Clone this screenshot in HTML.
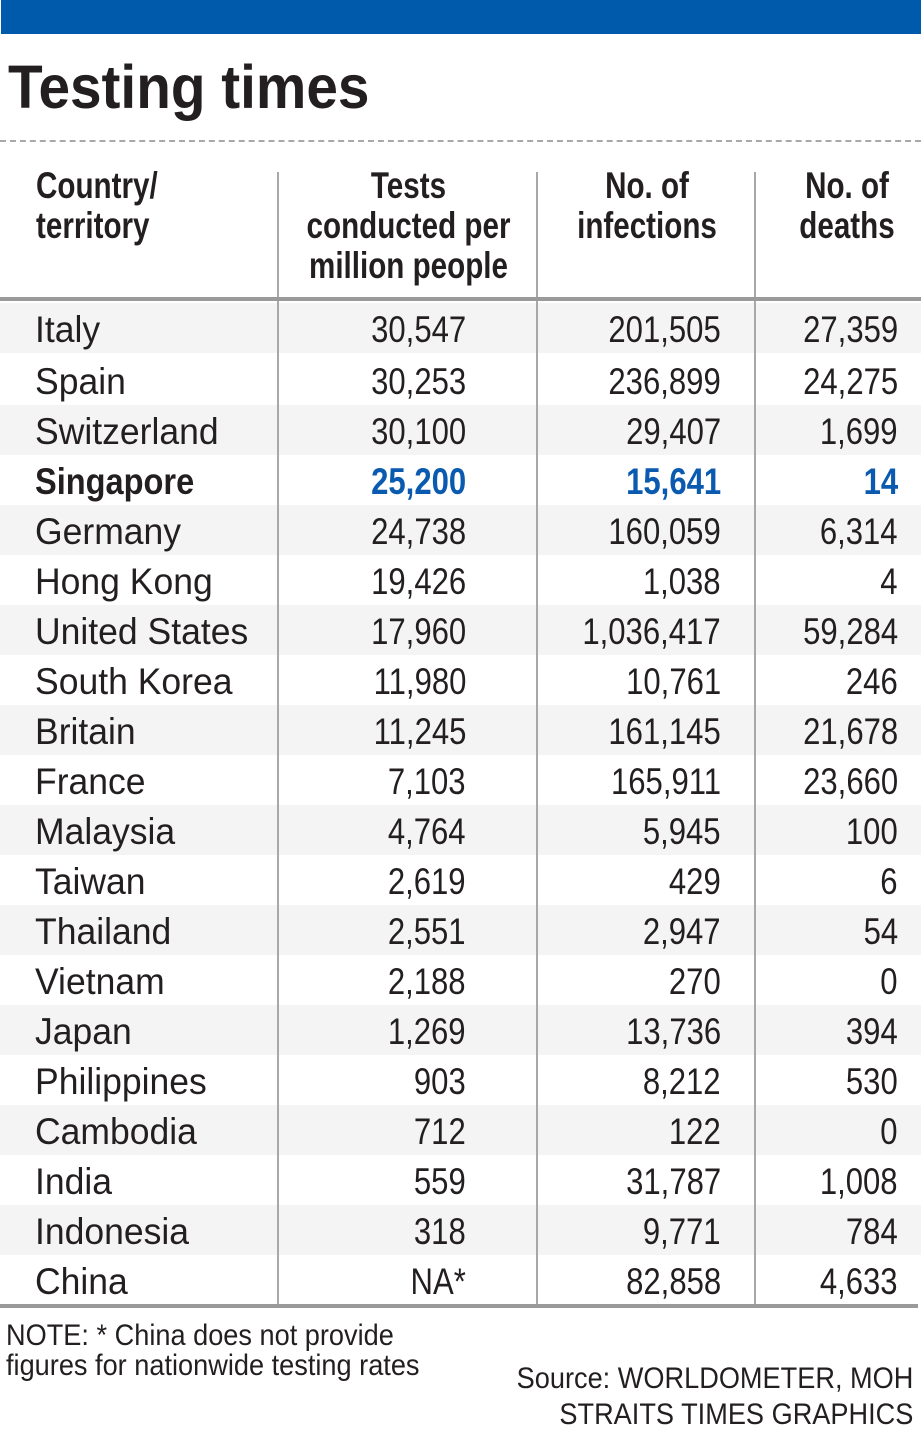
<!DOCTYPE html>
<html><head><meta charset="utf-8"><style>
*{margin:0;padding:0;box-sizing:border-box}
body{width:921px;height:1438px;background:#fff;position:relative;overflow:hidden;font-family:"Liberation Sans",sans-serif;color:#231f20}
.a{position:absolute;white-space:nowrap}
.row{position:absolute;left:0;width:921px;height:50px}
.g{background:#f3f4f3}
.t{position:absolute;font-size:37px;line-height:50px;top:2px}
.L{left:35px;transform:scaleX(0.96);transform-origin:left center}
.R{transform:scaleX(0.84);transform-origin:right center;text-align:right}
.c1{right:455px}.c2{right:200px}.c3{right:23px}
.b{font-weight:bold}
.bl{color:#0a5bb0;font-weight:bold}
.h{position:absolute;font-weight:bold;font-size:37px;line-height:40px;top:166px;transform:scaleX(0.80)}
.v{position:absolute;top:172px;width:2px;height:1133px;background:#a8a8a8}
</style></head><body>
<div class="a" style="left:1px;top:0;width:920px;height:34px;background:#005aab"></div>
<div class="a b" style="left:8px;top:51px;font-size:61px;line-height:72px;transform:scaleX(0.93);transform-origin:left center">Testing times</div>
<div class="a" style="left:0;top:140px;width:921px;height:0;border-top:2px dashed #a8a8a8"></div>

<div class="h" style="left:36px;transform-origin:left center">Country/<br>territory</div>
<div class="h" style="left:280px;width:257px;text-align:center">Tests<br>conducted per<br>million people</div>
<div class="h" style="left:539px;width:216px;text-align:center">No. of<br>infections</div>
<div class="h" style="left:757px;width:180px;text-align:center">No. of<br>deaths</div>

<div class="row g" style="top:303px"><span class="t L">Italy</span><span class="t R c1">30,547</span><span class="t R c2">201,505</span><span class="t R c3">27,359</span></div>
<div class="row" style="top:355px"><span class="t L">Spain</span><span class="t R c1">30,253</span><span class="t R c2">236,899</span><span class="t R c3">24,275</span></div>
<div class="row g" style="top:405px"><span class="t L">Switzerland</span><span class="t R c1">30,100</span><span class="t R c2">29,407</span><span class="t R c3">1,699</span></div>
<div class="row" style="top:455px"><span class="t L b" style="transform:scaleX(0.88)">Singapore</span><span class="t R c1 bl">25,200</span><span class="t R c2 bl">15,641</span><span class="t R c3 bl">14</span></div>
<div class="row g" style="top:505px"><span class="t L">Germany</span><span class="t R c1">24,738</span><span class="t R c2">160,059</span><span class="t R c3">6,314</span></div>
<div class="row" style="top:555px"><span class="t L">Hong Kong</span><span class="t R c1">19,426</span><span class="t R c2">1,038</span><span class="t R c3">4</span></div>
<div class="row g" style="top:605px"><span class="t L">United States</span><span class="t R c1">17,960</span><span class="t R c2">1,036,417</span><span class="t R c3">59,284</span></div>
<div class="row" style="top:655px"><span class="t L">South Korea</span><span class="t R c1">11,980</span><span class="t R c2">10,761</span><span class="t R c3">246</span></div>
<div class="row g" style="top:705px"><span class="t L">Britain</span><span class="t R c1">11,245</span><span class="t R c2">161,145</span><span class="t R c3">21,678</span></div>
<div class="row" style="top:755px"><span class="t L">France</span><span class="t R c1">7,103</span><span class="t R c2">165,911</span><span class="t R c3">23,660</span></div>
<div class="row g" style="top:805px"><span class="t L">Malaysia</span><span class="t R c1">4,764</span><span class="t R c2">5,945</span><span class="t R c3">100</span></div>
<div class="row" style="top:855px"><span class="t L">Taiwan</span><span class="t R c1">2,619</span><span class="t R c2">429</span><span class="t R c3">6</span></div>
<div class="row g" style="top:905px"><span class="t L">Thailand</span><span class="t R c1">2,551</span><span class="t R c2">2,947</span><span class="t R c3">54</span></div>
<div class="row" style="top:955px"><span class="t L">Vietnam</span><span class="t R c1">2,188</span><span class="t R c2">270</span><span class="t R c3">0</span></div>
<div class="row g" style="top:1005px"><span class="t L">Japan</span><span class="t R c1">1,269</span><span class="t R c2">13,736</span><span class="t R c3">394</span></div>
<div class="row" style="top:1055px"><span class="t L">Philippines</span><span class="t R c1">903</span><span class="t R c2">8,212</span><span class="t R c3">530</span></div>
<div class="row g" style="top:1105px"><span class="t L">Cambodia</span><span class="t R c1">712</span><span class="t R c2">122</span><span class="t R c3">0</span></div>
<div class="row" style="top:1155px"><span class="t L">India</span><span class="t R c1">559</span><span class="t R c2">31,787</span><span class="t R c3">1,008</span></div>
<div class="row g" style="top:1205px"><span class="t L">Indonesia</span><span class="t R c1">318</span><span class="t R c2">9,771</span><span class="t R c3">784</span></div>
<div class="row" style="top:1255px"><span class="t L">China</span><span class="t R c1">NA*</span><span class="t R c2">82,858</span><span class="t R c3">4,633</span></div>

<div class="v" style="left:277px"></div>
<div class="v" style="left:536px"></div>
<div class="v" style="left:754px"></div>
<div class="a" style="left:0;top:297px;width:921px;height:4px;background:#9a9a9a"></div>
<div class="a" style="left:0;top:1304px;width:918px;height:4px;background:#9a9a9a"></div>

<div class="a" style="left:6px;top:1321px;font-size:30px;line-height:30px;transform:scaleX(0.905);transform-origin:left top">NOTE: * China does not provide<br>figures for nationwide testing rates</div>
<div class="a" style="right:8px;top:1361px;font-size:30px;line-height:36px;text-align:right;transform:scaleX(0.905);transform-origin:right top">Source: WORLDOMETER, MOH<br>STRAITS TIMES GRAPHICS</div>
</body></html>
